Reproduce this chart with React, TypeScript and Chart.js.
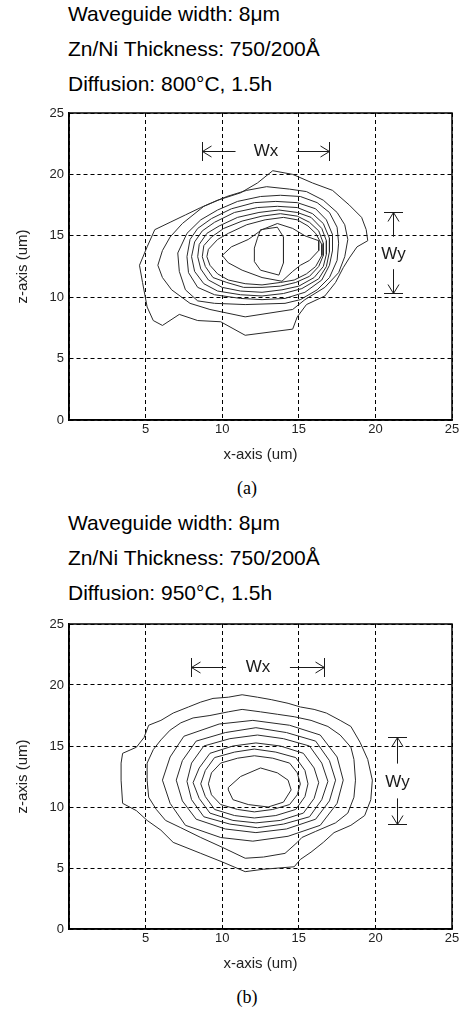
import React, { useEffect, useRef } from "react";
import { Chart, registerables } from "chart.js";

Chart.register(...registerables);

type Pt = [number, number];

// ---------- axes ----------
const xTicks = [0, 5, 10, 15, 20, 25];
const xTickLabels = ["", "5", "10", "15", "20", "25"];
const zTicks = [0, 5, 10, 15, 20, 25];
const zTickLabels = ["0", "5", "10", "15", "20", "25"];
const xTitle = "x-axis (um)";
const zTitle = "z-axis (um)";

// ---------- headers ----------
const headerA = ["Waveguide width: 8\u03bcm", "Zn/Ni Thickness: 750/200\u00c5", "Diffusion: 800\u00b0C, 1.5h"];
const headerB = ["Waveguide width: 8\u03bcm", "Zn/Ni Thickness: 750/200\u00c5", "Diffusion: 950\u00b0C, 1.5h"];
const captionA = "(a)";
const captionB = "(b)";

// ---------- annotations (data units) ----------
const wxA = { label: "Wx", from: 8.7, to: 17.0, z: 21.9 };
const wyA = { label: "Wy", x: 21.15, from: 16.9, to: 10.35 };
const wxB = { label: "Wx", from: 7.95, to: 16.65, z: 21.5 };
const wyB = { label: "Wy", x: 21.4, from: 15.75, to: 8.6 };

// ---------- contours, panel (a): 800 C ----------
const a1: Pt[] = [[13.3,20.3],[14.6,20.0],[15.9,19.3],[17.2,18.7],[18.3,17.5],[19.1,16.5],[19.4,15.5],[19.5,14.6],[18.8,14.1],[18.3,13.2],[17.9,12.4],[17.4,11.2],[16.7,10.1],[15.5,9.4],[14.9,8.4],[14.6,7.4],[11.5,6.9],[9.9,8.0],[8.4,8.1],[7.2,8.6],[6.1,7.7],[5.5,8.1],[5.1,9.2],[4.8,11.2],[4.6,12.6],[5.1,14.1],[5.6,15.5],[6.6,16.1],[7.6,16.7],[8.6,17.3],[9.7,17.9],[11.2,18.5],[12.3,19.3]];
const a2: Pt[] = [[12.9,19.0],[14.4,18.8],[15.5,18.6],[16.6,17.9],[17.5,16.9],[18.0,15.9],[18.2,14.7],[18.0,13.3],[17.6,12.0],[16.7,10.8],[15.4,9.8],[14.6,9.0],[11.5,8.4],[9.2,9.0],[7.9,9.5],[6.7,10.6],[6.1,11.6],[5.8,12.6],[6.1,13.8],[6.6,14.9],[7.4,16.0],[8.8,17.4],[10.3,18.2],[11.6,18.7]];
const a3: Pt[] = [[12.5,18.2],[13.8,18.3],[15.1,18.2],[16.2,17.7],[17.0,16.9],[17.5,15.7],[17.6,14.4],[17.5,13.0],[17.0,11.6],[16.2,10.6],[15.1,9.8],[14.1,9.5],[11.5,9.4],[9.5,9.5],[8.4,9.7],[7.6,10.6],[7.2,12.1],[7.1,13.6],[7.7,15.2],[8.6,16.3],[9.7,17.1],[11.0,17.8]];
const a4: Pt[] = [[7.9,14.7],[8.4,15.6],[9.3,16.4],[10.6,17.2],[12.1,17.7],[13.5,17.8],[14.9,17.7],[16.1,17.2],[16.8,16.3],[17.2,15.1],[17.2,13.8],[17.0,12.6],[16.5,11.4],[15.4,10.4],[14.1,9.9],[12.6,9.8],[11.2,9.9],[9.5,10.2],[8.4,10.8],[7.8,12.0],[7.7,13.3]];
const a5: Pt[] = [[8.2,14.5],[8.7,15.4],[9.5,16.1],[10.8,16.9],[12.3,17.3],[13.6,17.4],[14.9,17.3],[15.9,16.8],[16.6,16.0],[17.0,14.8],[17.0,13.7],[16.8,12.5],[16.3,11.5],[15.2,10.7],[14.0,10.3],[12.6,10.1],[11.2,10.2],[9.7,10.5],[8.8,11.1],[8.2,12.1],[8.0,13.3]];
const a6: Pt[] = [[8.5,14.3],[9.0,15.2],[9.8,15.8],[11.0,16.5],[12.4,16.9],[13.7,17.1],[14.9,16.9],[15.8,16.5],[16.5,15.6],[16.8,14.6],[16.8,13.5],[16.6,12.5],[16.0,11.6],[15.0,10.9],[13.9,10.6],[12.6,10.4],[11.2,10.5],[10.0,10.8],[9.1,11.4],[8.6,12.3],[8.4,13.3]];
const a7: Pt[] = [[8.8,14.2],[9.3,14.9],[10.1,15.6],[11.3,16.2],[12.6,16.6],[13.8,16.8],[14.9,16.6],[15.7,16.1],[16.3,15.4],[16.6,14.4],[16.6,13.4],[16.3,12.5],[15.7,11.7],[14.8,11.2],[13.8,10.9],[12.6,10.8],[11.4,10.8],[10.3,11.2],[9.4,11.6],[8.9,12.5],[8.7,13.3]];
const a8: Pt[] = [[9.1,13.9],[9.7,14.7],[10.4,15.2],[11.6,15.9],[12.8,16.3],[14.0,16.5],[14.9,16.3],[15.6,15.8],[16.1,15.2],[16.5,14.3],[16.5,13.4],[16.1,12.5],[15.5,11.9],[14.7,11.4],[13.8,11.2],[12.6,11.0],[11.5,11.1],[10.4,11.4],[9.7,11.9],[9.2,12.6],[9.0,13.3]];
const a9: Pt[] = [[10.0,13.4],[10.6,14.1],[11.7,14.7],[12.6,15.5],[13.6,16.0],[14.6,15.6],[15.4,15.0],[16.3,14.6],[16.3,13.8],[15.7,13.0],[15.1,12.6],[14.6,12.1],[13.9,11.3],[12.6,11.6],[11.3,12.2],[10.4,12.8]];
const a10: Pt[] = [[12.5,15.5],[13.6,15.7],[14.0,14.9],[14.0,12.8],[13.7,11.8],[12.5,12.2],[12.1,12.9],[12.1,14.0],[12.3,14.8]];

// ---------- contours, panel (b): 950 C ----------
const b1: Pt[] = [[11.3,19.2],[12.3,19.0],[13.2,18.8],[14.3,18.5],[15.1,18.2],[16.0,18.0],[16.8,17.7],[17.7,17.1],[18.4,16.6],[19.0,15.3],[19.5,13.9],[19.8,12.2],[19.7,10.6],[19.3,9.3],[18.4,8.5],[17.3,7.9],[16.6,7.1],[15.8,6.3],[15.1,5.7],[14.7,5.1],[12.7,4.9],[11.5,4.7],[10.0,5.5],[8.6,6.2],[6.8,7.1],[6.0,8.1],[5.1,8.9],[4.4,9.7],[3.5,10.3],[3.4,12.2],[3.4,13.6],[3.5,14.4],[4.4,14.9],[4.9,15.7],[5.2,16.7],[6.0,17.1],[6.8,17.7],[7.8,18.2],[8.6,18.6],[9.4,18.9],[10.4,19.0]];
const b2: Pt[] = [[11.3,18.0],[12.5,17.8],[13.6,17.6],[14.7,17.4],[15.8,17.1],[16.9,16.6],[17.7,15.9],[18.4,14.9],[18.6,13.9],[18.7,12.2],[18.6,10.8],[18.2,9.5],[17.4,8.7],[16.1,8.0],[15.2,7.5],[14.9,7.1],[14.1,6.2],[12.7,5.9],[11.5,5.8],[10.0,6.7],[8.6,7.5],[7.3,8.3],[6.3,8.9],[5.7,9.8],[5.2,10.8],[5.1,12.2],[5.1,13.6],[5.5,14.7],[6.0,15.5],[6.6,16.3],[7.3,16.9],[8.1,17.3],[9.2,17.5],[10.4,17.8]];
const b3: Pt[] = [[12.0,17.1],[14.4,16.7],[16.4,15.9],[17.5,14.1],[17.9,12.2],[17.5,10.3],[16.4,8.5],[14.3,7.6],[12.0,7.2],[9.9,7.5],[7.6,8.5],[6.6,10.3],[6.1,12.2],[6.6,14.1],[7.5,15.8],[9.8,16.8]];
const b4: Pt[] = [[12.2,16.5],[14.2,16.1],[16.1,15.4],[17.0,13.8],[17.4,12.2],[17.0,10.5],[16.1,9.0],[14.2,8.2],[12.2,7.9],[10.2,8.2],[8.3,9.0],[7.4,10.5],[7.0,12.2],[7.4,13.8],[8.3,15.4],[10.2,16.1]];
const b5: Pt[] = [[12.3,15.9],[14.0,15.6],[15.7,15.0],[16.5,13.6],[16.9,12.1],[16.5,10.6],[15.7,9.2],[14.0,8.6],[12.3,8.3],[10.5,8.6],[8.8,9.2],[8.0,10.6],[7.7,12.1],[8.0,13.6],[8.8,15.0],[10.5,15.6]];
const b6: Pt[] = [[12.2,15.25],[13.8,15.0],[15.3,14.4],[16.0,13.2],[16.3,12.0],[16.0,10.7],[15.3,9.5],[13.8,8.9],[12.2,8.7],[10.7,8.9],[9.2,9.5],[8.5,10.7],[8.1,12.0],[8.5,13.2],[9.2,14.4],[10.7,15.0]];
const b7: Pt[] = [[12.1,14.75],[13.5,14.5],[14.8,14.05],[15.4,13.0],[15.6,11.9],[15.4,10.85],[14.8,9.8],[13.5,9.3],[12.1,9.1],[10.8,9.3],[9.5,9.8],[8.9,10.85],[8.6,11.9],[8.9,13.0],[9.5,14.05],[10.8,14.5]];
const b8: Pt[] = [[12.1,14.2],[13.3,14.0],[14.4,13.6],[14.9,12.8],[15.1,11.9],[14.9,11.0],[14.4,10.2],[13.3,9.8],[12.1,9.6],[11.0,9.8],[9.9,10.2],[9.3,11.0],[9.1,11.9],[9.3,12.8],[9.9,13.6],[11.0,14.0]];
const b9: Pt[] = [[10.4,11.6],[11.2,12.5],[12.5,13.2],[13.6,12.8],[14.3,12.2],[14.5,11.4],[14.0,10.4],[13.0,10.0],[11.7,10.2],[10.7,10.6],[10.4,11.4]];

const contoursA = [a1, a2, a3, a4, a5, a6, a7, a8, a9, a10];
const contoursB = [b1, b2, b3, b4, b5, b6, b7, b8, b9];

// ---------- styling ----------
const SANS = '"Liberation Sans", Arial, Helvetica, sans-serif';
const SERIF = '"Liberation Serif", "Times New Roman", serif';
const INK = "#222";

type Wx = { label: string; from: number; to: number; z: number };
type Wy = { label: string; x: number; from: number; to: number };

function makeOverlay(wx: Wx, wy: Wy) {
  return {
    id: "overlay",
    afterDraw(chart: any) {
      const { ctx, chartArea: ca, scales } = chart;
      const xs = scales.x;
      const ys = scales.y;
      ctx.save();
      ctx.setLineDash([]);
      ctx.strokeStyle = "#000";
      ctx.lineWidth = 1.5;
      ctx.strokeRect(ca.left, ca.top, ca.right - ca.left, ca.bottom - ca.top);

      ctx.strokeStyle = "#1a1a1a";
      ctx.fillStyle = "#1a1a1a";
      ctx.lineWidth = 1;
      ctx.font = `17px ${SANS}`;
      ctx.textAlign = "center";
      ctx.textBaseline = "middle";
      const h = 9.5;
      const ah = 9;
      const aw = 5.5;

      // Wx horizontal dimension
      const xl = Math.round(xs.getPixelForValue(wx.from)) + 0.5;
      const xr = Math.round(xs.getPixelForValue(wx.to)) + 0.5;
      const y = Math.round(ys.getPixelForValue(wx.z)) + 0.5;
      const seg = (xr - xl) * 0.26;
      ctx.beginPath();
      ctx.moveTo(xl, y - h); ctx.lineTo(xl, y + h);
      ctx.moveTo(xr, y - h); ctx.lineTo(xr, y + h);
      ctx.moveTo(xl, y); ctx.lineTo(xl + seg, y);
      ctx.moveTo(xr, y); ctx.lineTo(xr - seg, y);
      ctx.moveTo(xl + ah, y - aw); ctx.lineTo(xl, y); ctx.lineTo(xl + ah, y + aw);
      ctx.moveTo(xr - ah, y - aw); ctx.lineTo(xr, y); ctx.lineTo(xr - ah, y + aw);
      ctx.stroke();
      ctx.fillText(wx.label, (xl + xr) / 2, y);

      // Wy vertical dimension
      const x = Math.round(xs.getPixelForValue(wy.x)) + 0.5;
      const yt = Math.round(ys.getPixelForValue(wy.from)) + 0.5;
      const yb = Math.round(ys.getPixelForValue(wy.to)) + 0.5;
      const segY = (yb - yt) * 0.3;
      ctx.beginPath();
      ctx.moveTo(x - h, yt); ctx.lineTo(x + h, yt);
      ctx.moveTo(x - h, yb); ctx.lineTo(x + h, yb);
      ctx.moveTo(x, yt); ctx.lineTo(x, yt + segY);
      ctx.moveTo(x, yb); ctx.lineTo(x, yb - segY);
      ctx.moveTo(x - aw, yt + ah); ctx.lineTo(x, yt); ctx.lineTo(x + aw, yt + ah);
      ctx.moveTo(x - aw, yb - ah); ctx.lineTo(x, yb); ctx.lineTo(x + aw, yb - ah);
      ctx.stroke();
      ctx.fillText(wy.label, x, (yt + yb) / 2 + 1);
      ctx.restore();
    },
  };
}

type PanelProps = {
  top: number;
  height: number;
  padTop: number;
  contours: Pt[][];
  wx: Wx;
  wy: Wy;
};

function ContourPanel({ top, height, padTop, contours, wx, wy }: PanelProps) {
  const ref = useRef<HTMLCanvasElement | null>(null);
  useEffect(() => {
    if (!ref.current) return;
    const tickFont = { family: SANS, size: 13 };
    const titleFont = { family: SANS, size: 15 };
    const chart = new Chart(ref.current, {
      type: "scatter",
      data: {
        datasets: contours.map((c) => ({
          data: [...c, c[0]].map(([x, y]) => ({ x, y })),
          showLine: true,
          borderColor: "#2a2a2a",
          borderWidth: 1,
          pointRadius: 0,
          pointHoverRadius: 0,
          fill: false,
          tension: 0,
        })),
      },
      options: {
        animation: false,
        responsive: false,
        events: [],
        layout: { padding: { top: padTop, right: 14, left: 0, bottom: 0 } },
        plugins: { legend: { display: false }, tooltip: { enabled: false } },
        scales: {
          x: {
            type: "linear",
            min: 0,
            max: 25,
            afterFit: (s: any) => { s.height = 50; },
            afterBuildTicks: (s: any) => { s.ticks = xTicks.map((v) => ({ value: v })); },
            ticks: {
              autoSkip: false,
              maxRotation: 0,
              padding: 2,
              color: INK,
              font: tickFont,
              callback: (v: any) => xTickLabels[xTicks.indexOf(Number(v))] ?? "",
            },
            grid: { color: "#000", lineWidth: 1, drawTicks: false },
            border: { display: true, color: "#000", width: 1.5, dash: [4, 3] },
            title: { display: true, text: xTitle, color: INK, font: titleFont, padding: { top: 0, bottom: 6 } },
          },
          y: {
            type: "linear",
            min: 0,
            max: 25,
            afterFit: (s: any) => { s.width = 69; },
            afterBuildTicks: (s: any) => { s.ticks = zTicks.map((v) => ({ value: v })); },
            ticks: {
              autoSkip: false,
              padding: 5,
              color: INK,
              font: tickFont,
              callback: (v: any) => zTickLabels[zTicks.indexOf(Number(v))] ?? "",
            },
            grid: { color: "#000", lineWidth: 1, drawTicks: false },
            border: { display: true, color: "#000", width: 1.5, dash: [4, 3] },
            title: { display: true, text: zTitle, color: INK, font: titleFont, padding: { top: 14, bottom: 0 } },
          },
        },
      },
      plugins: [makeOverlay(wx, wy)],
    } as any);
    return () => chart.destroy();
  }, []);
  return (
    <canvas
      ref={ref}
      width={466}
      height={height}
      style={{ position: "absolute", left: 0, top, width: 466, height, display: "block" }}
    />
  );
}

function Header({ lines, centers }: { lines: string[]; centers: number[] }) {
  const fs = 21;
  return (
    <>
      {lines.map((t, i) => (
        <div
          key={i}
          style={{
            position: "absolute",
            left: 68,
            top: centers[i] - fs * 0.5,
            fontFamily: SANS,
            fontSize: fs,
            lineHeight: `${fs}px`,
            color: "#000",
            whiteSpace: "nowrap",
          }}
        >
          {t}
        </div>
      ))}
    </>
  );
}

function Caption({ text, center }: { text: string; center: number }) {
  const fs = 18;
  return (
    <div
      style={{
        position: "absolute",
        left: 147,
        width: 200,
        textAlign: "center",
        top: center - fs * 0.5,
        fontFamily: SERIF,
        fontSize: fs,
        lineHeight: `${fs}px`,
        color: "#000",
      }}
    >
      {text}
    </div>
  );
}

export default function App() {
  return (
    <div style={{ position: "absolute", left: 0, top: 0, width: 466, height: 1011, background: "#fff", overflow: "hidden" }}>
      <Header lines={headerA} centers={[13, 48, 83]} />
      <ContourPanel top={100} height={370} padTop={13} contours={contoursA} wx={wxA} wy={wyA} />
      <Caption text={captionA} center={488} />
      <Header lines={headerB} centers={[522, 557, 592]} />
      <ContourPanel top={600} height={379} padTop={24} contours={contoursB} wx={wxB} wy={wyB} />
      <Caption text={captionB} center={997} />
    </div>
  );
}
